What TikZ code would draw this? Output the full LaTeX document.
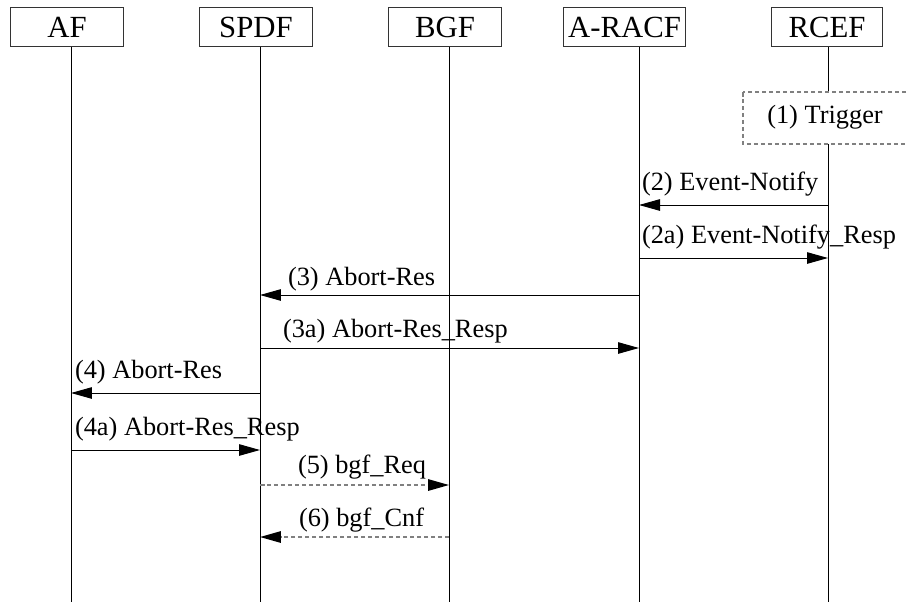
\documentclass[tikz,border=0pt]{standalone}
\usepackage{fontspec}
\setmainfont{Liberation Serif}
\usetikzlibrary{arrows.meta}
\definecolor{c808080}{RGB}{128,128,128}
\definecolor{c333333}{RGB}{51,51,51}
\def \globalscale {1.000000}

\begin{document}
\begin{tikzpicture}[y=-0.02cm, x=0.02cm, yscale=\globalscale,xscale=\globalscale, every node/.append style={scale=\globalscale}, inner sep=0pt, outer sep=0pt,
  hdr/.style={draw=c333333,line width=0.02cm,fill=white,minimum height=0.8cm,font=\fontsize{17.5}{20}\selectfont},
  msg/.style={draw=black,line width=0.02cm,-{Triangle[length=0.42cm,width=0.23cm]}},
  dmsg/.style={draw=c808080,line width=0.03cm,dash pattern=on 0.09cm off 0.05cm,-{Triangle[length=0.42cm,width=0.23cm,color=black]}},
  lbl/.style={text=black,anchor=base west,font=\fontsize{15}{17}\selectfont}]
  \useasboundingbox (0,0) rectangle (907,602);



  \coordinate (laf) at (71,47);
  \coordinate (lspdf) at (260,47);
  \coordinate (lbgf) at (449,47);
  \coordinate (lracf) at (639,47);
  \coordinate (lrcef) at (828,47);



  \path[draw=black,line width=0.02cm] (laf) -- (laf |- 0,602);
  \path[draw=black,line width=0.02cm] (lspdf) -- (lspdf |- 0,602);
  \path[draw=black,line width=0.02cm] (lbgf) -- (lbgf |- 0,602);
  \path[draw=black,line width=0.02cm] (lracf) -- (lracf |- 0,602);
  \path[draw=black,line width=0.02cm] (lrcef) -- (lrcef |- 0,602);



  \node[hdr,minimum width=2.28cm] (af) at (67,27){AF};
  \node[hdr,minimum width=2.28cm] (spdf) at (256,27){SPDF};
  \node[hdr,minimum width=2.28cm] (bgf) at (445,27){BGF};
  \node[hdr,minimum width=2.46cm] (racf) at (624.5,27){A-RACF};
  \node[hdr,minimum width=2.24cm] (rcef) at (827,27){RCEF};



  \path[draw=c808080,fill=white,line width=0.025cm,dash pattern=on 0.09cm off 0.05cm] (743,92) rectangle (930,144);
  \node[lbl,anchor=base] (text1) at (825,123){(1) Trigger};



  \path[msg] (lrcef |- 0,205) -- (lracf |- 0,205);
  \node[lbl] (text2) at (642,190){(2) Event-Notify};



  \path[msg] (lracf |- 0,258) -- (lrcef |- 0,258);
  \node[lbl] (text2a) at (642,243){(2a) Event-Notify\_Resp};



  \path[msg] (lracf |- 0,295) -- (lspdf |- 0,295);
  \node[lbl] (text3) at (288,285){(3) Abort-Res};



  \path[msg] (lspdf |- 0,348) -- (lracf |- 0,348);
  \node[lbl] (text3a) at (283,337){(3a) Abort-Res\_Resp};



  \path[msg] (lspdf |- 0,393) -- (laf |- 0,393);
  \node[lbl] (text4) at (75,378){(4) Abort-Res};



  \path[msg] (laf |- 0,450) -- (lspdf |- 0,450);
  \node[lbl] (text4a) at (75,435){(4a) Abort-Res\_Resp};



  \path[dmsg] (lspdf |- 0,485) -- (lbgf |- 0,485);
  \node[lbl] (text5) at (298,473){(5) bgf\_Req};



  \path[dmsg] (lbgf |- 0,537) -- (lspdf |- 0,537);
  \node[lbl] (text6) at (299,526){(6) bgf\_Cnf};




\end{tikzpicture}
\end{document}
